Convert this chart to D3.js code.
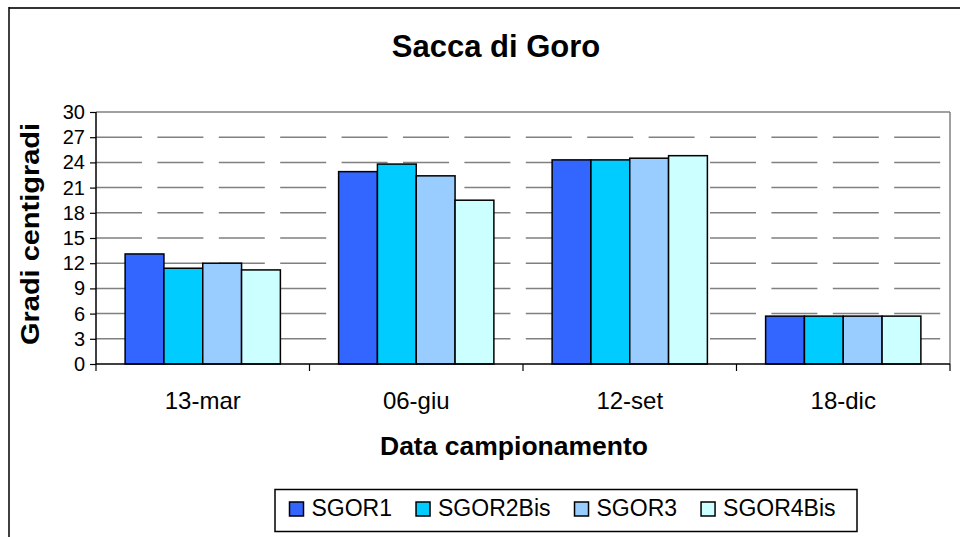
<!DOCTYPE html>
<html>
<head>
<meta charset="utf-8">
<script src="https://cdn.jsdelivr.net/npm/d3@7/dist/d3.min.js"></script>
<style>
  html, body { margin: 0; padding: 0; background: #fff; }
  svg { display: block; }
  text { font-family: "Liberation Sans", Arial, Helvetica, sans-serif; fill: #000; }
</style>
</head>
<body>
<svg id="chart" width="960" height="537"></svg>
<script>
const title = "Sacca di Goro";
const xTitle = "Data campionamento";
const yTitle = "Gradi centigradi";
const categories = ["13-mar", "06-giu", "12-set", "18-dic"];
const seriesNames = ["SGOR1", "SGOR2Bis", "SGOR3", "SGOR4Bis"];
const seriesColors = ["#3366FF", "#00CCFF", "#99CCFF", "#CCFFFF"];
const SGOR1 = [13.1, 22.9, 24.3, 5.7];
const SGOR2Bis = [11.4, 23.8, 24.3, 5.7];
const SGOR3 = [12.0, 22.4, 24.5, 5.7];
const SGOR4Bis = [11.2, 19.5, 24.8, 5.7];
const seriesValues = [SGOR1, SGOR2Bis, SGOR3, SGOR4Bis];
const yTicks = [0, 3, 6, 9, 12, 15, 18, 21, 24, 27, 30];

const svg = d3.select("#chart");

// outer chart border
svg.append("line").attr("x1", 9).attr("x2", 960).attr("y1", 8).attr("y2", 8)
  .attr("stroke", "#333").attr("stroke-width", 2);
svg.append("line").attr("x1", 9).attr("x2", 9).attr("y1", 7).attr("y2", 537)
  .attr("stroke", "#000").attr("stroke-width", 1.5);

const plot = { left: 96, right: 950, top: 112, bottom: 364 };

const x0 = d3.scaleBand().domain(categories).range([plot.left, plot.right]).paddingInner(0).paddingOuter(0);
const x1 = d3.scaleBand().domain(seriesNames).range([0, x0.bandwidth()]).paddingInner(0).paddingOuter(0.75);
const y = d3.scaleLinear().domain([0, 30]).range([plot.bottom, plot.top]);

// gridlines
const g = svg.append("g");
g.selectAll("line.grid").data(yTicks.filter(t => t > 0)).join("line")
  .attr("class", "grid")
  .attr("x1", plot.left).attr("x2", plot.right)
  .attr("y1", d => y(d)).attr("y2", d => y(d))
  .attr("stroke", "#808080").attr("stroke-width", 1.5)
  .attr("stroke-dasharray", d => d === 30 ? null : "46,15.4");
// right plot border
g.append("line").attr("x1", plot.right).attr("x2", plot.right)
  .attr("y1", plot.top).attr("y2", plot.bottom)
  .attr("stroke", "#808080").attr("stroke-width", 1.5);

// bars
const groups = svg.append("g").selectAll("g").data(categories).join("g")
  .attr("transform", c => `translate(${x0(c)},0)`);
groups.selectAll("rect").data((c, i) => seriesNames.map((s, j) => ({ s, j, v: seriesValues[j][i] })))
  .join("rect")
  .attr("x", d => x1(d.s))
  .attr("width", x1.bandwidth())
  .attr("y", d => y(d.v))
  .attr("height", d => y(0) - y(d.v))
  .attr("fill", d => seriesColors[d.j])
  .attr("stroke", "#000").attr("stroke-width", 1.5);

// y axis
const yAxis = d3.axisLeft(y).tickValues(yTicks).tickSize(6).tickPadding(5);
const ya = svg.append("g").attr("transform", `translate(${plot.left},0)`).call(yAxis);
ya.select(".domain").attr("stroke", "#000").attr("stroke-width", 1.5).attr("d", `M0,${plot.top}V${plot.bottom}`);
ya.selectAll(".tick line").attr("stroke", "#000").attr("stroke-width", 1.2);
ya.selectAll(".tick text").attr("font-size", 20).attr("font-family", '"Liberation Sans", Arial, sans-serif').attr("fill", "#000");

// x axis
const xa = svg.append("g").attr("transform", `translate(0,${plot.bottom})`);
xa.append("line").attr("x1", plot.left).attr("x2", plot.right).attr("y1", 0).attr("y2", 0)
  .attr("stroke", "#000").attr("stroke-width", 1.5);
const bounds = categories.map(c => x0(c)).concat([plot.right]);
xa.selectAll("line.tk").data(bounds).join("line").attr("class", "tk")
  .attr("x1", d => d).attr("x2", d => d).attr("y1", 0).attr("y2", 7)
  .attr("stroke", "#000").attr("stroke-width", 1.2);
xa.selectAll("text.cat").data(categories).join("text").attr("class", "cat")
  .attr("x", c => x0(c) + x0.bandwidth() / 2).attr("y", 45)
  .attr("text-anchor", "middle").attr("font-size", 24).text(c => c);

// titles
svg.append("text").attr("x", 496).attr("y", 57).attr("text-anchor", "middle")
  .attr("font-size", 31).attr("font-weight", "bold").text(title);
svg.append("text").attr("x", 514).attr("y", 455).attr("text-anchor", "middle")
  .attr("font-size", 26).attr("font-weight", "bold")
  .attr("textLength", 268).attr("lengthAdjust", "spacingAndGlyphs").text(xTitle);
svg.append("text").attr("transform", "translate(39,234) rotate(-90)").attr("text-anchor", "middle")
  .attr("font-size", 25).attr("font-weight", "bold")
  .attr("textLength", 222).attr("lengthAdjust", "spacingAndGlyphs").text(yTitle);

// legend
const lg = svg.append("g");
lg.append("rect").attr("x", 275).attr("y", 489.5).attr("width", 582).attr("height", 42)
  .attr("fill", "#fff").attr("stroke", "#000").attr("stroke-width", 1.5);
let lx = 289.5;
seriesNames.forEach((s, j) => {
  lg.append("rect").attr("x", lx).attr("y", 502).attr("width", 14).attr("height", 14)
    .attr("fill", seriesColors[j]).attr("stroke", "#000").attr("stroke-width", 1.5);
  const t = lg.append("text").attr("x", lx + 22).attr("y", 516).attr("font-size", 23).text(s);
  const w = t.node().getComputedTextLength();
  lx = lx + 22 + w + 24;
});
</script>
</body>
</html>
